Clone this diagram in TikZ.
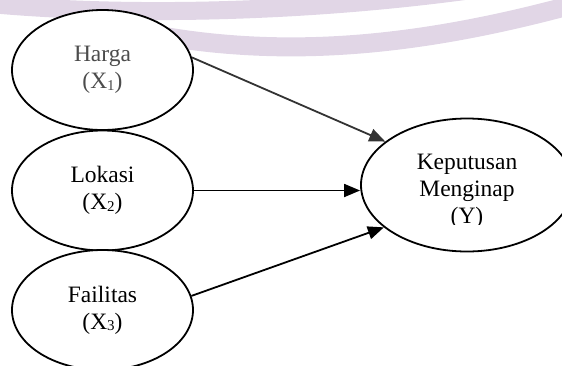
\documentclass[tikz,border=0pt]{standalone}
\usepackage{fontspec}
\setmainfont{Liberation Serif}
\usetikzlibrary{arrows.meta,shapes.geometric}
\definecolor{wmark}{RGB}{225,214,230}
\newcommand{\varsub}[1]{{\fontsize{15}{15}\selectfont\raisebox{-1.5pt}{#1}}}
\begin{document}
\begin{tikzpicture}[x=1pt, y=-1pt,
  var/.style={draw, fill=white, ellipse, line width=1.8pt, minimum width=181pt, minimum height=120pt,
    inner sep=0pt, align=center, font=\fontsize{23.5}{27}\selectfont},
  arr/.style={-{Triangle[length=16pt,width=13pt]}, line width=1.8pt}]
\useasboundingbox (0,0) rectangle (562,365);
% watermark bands
\draw[wmark, line width=18pt] (-30,2) .. controls (100,16) and (300,16) .. (500,-14);
\draw[wmark, line width=19pt] (140,32) .. controls (280,60) and (420,48) .. (590,0);
% variables
\node[var, text=black!70] (h) at (102.5,70) {Harga\\(X\varsub{1})};
\node[var] (l) at (102.5,190.5) {Lokasi\\(X\varsub{2})};
\node[var] (f) at (102.5,310) {Failitas\\(X\varsub{3})};
\node[var, minimum width=212pt, minimum height=133pt] (y) at (467,185) {};
\begin{scope}
\clip (360,110) rectangle (562,224);
\node[align=center, font=\fontsize{23.5}{27}\selectfont] (ytext) at (467,191) {Keputusan\\Menginap\\(Y)};
\end{scope}
% paths
\draw[arr, black!80] (h.8) -- (y.152);
\draw[arr] (l.east) -- (l.east -| y.west);
\draw[arr] (f.9) -- (y.207);
\end{tikzpicture}
\end{document}
